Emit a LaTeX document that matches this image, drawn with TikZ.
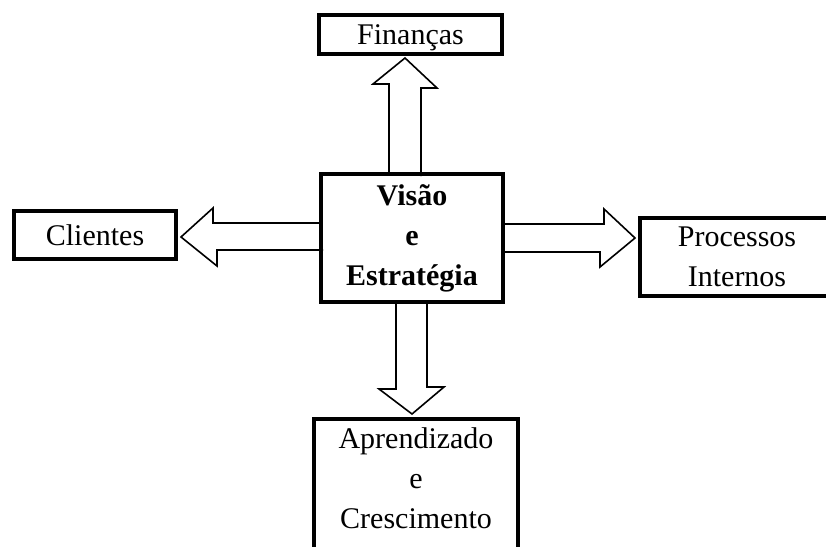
\documentclass[tikz,border=0pt]{standalone}
\usepackage{fontspec}
\setmainfont{Liberation Serif}
\usepackage{tikz}
\usetikzlibrary{calc}

\begin{document}
\begin{tikzpicture}[x=1pt, y=-1pt,
        box/.style={draw, line width=4pt, align=center, inner sep=0pt, font=\fontsize{30}{40}\selectfont},
        mainbox/.style={box, font=\fontsize{30}{40}\selectfont\bfseries},
        txt/.style={align=center, inner sep=0pt, font=\fontsize{30}{40}\selectfont},
        blk/.style={draw, line width=1.6pt, line join=miter}]
            \useasboundingbox (0,0) rectangle (826,546);
            \clip (0,0) rectangle (826,546);
            \node [mainbox, minimum width=182, minimum height=128] (vis) at (412,238) {Visão\\ e\\ Estratégia};
            \node [box, text depth=0pt, minimum width=183, minimum height=39] (fin) at (410.5,34.5) {Finanças};
            \node [box, minimum width=162, minimum height=48] (cli) at (95,235) {Clientes};
            \node [box, minimum width=194, minimum height=78] (proc) at (737,257) {Processos\\ Internos};
            \node [box, anchor=north, minimum width=204, minimum height=150] (apr) at (416,417) {};
            \node [txt, anchor=north] (aprtxt) at ($(apr.north)+(0,10)$) {Aprendizado\\ e\\ Crescimento};
            \draw [blk] ($(vis.north)+(-23,0)$) -- ++(0,-88) -- ++(-16,0) -- ($(fin.south)+(-5.5,2)$)
                -- ++(32,30) -- ++(-16,0) -- ++(0,88);      %nach oben
            \draw [blk] ($(vis.west)+(0,-15)$) -- ++(-106,0) -- ++(0,-15) -- ($(cli.east)+(3,2)$)
                -- ++(36,29) -- ++(0,-16) -- ++(106,0);     %nach links
            \draw [blk] ($(vis.east)+(0,-14)$) -- ++(99,0) -- ++(0,-15) -- ($(proc.west)+(-3,-19)$)
                -- ++(-35,29) -- ++(0,-15) -- ++(-99,0);    %nach rechts
            \draw [blk] ($(vis.south)+(-16,0)$) -- ++(0,85) -- ++(-17,0) -- ($(apr.north)+(-4,-3)$)
                -- ++(32,-27) -- ++(-17,0) -- ++(0,-85);    %nach unten
        \end{tikzpicture}
\end{document}
